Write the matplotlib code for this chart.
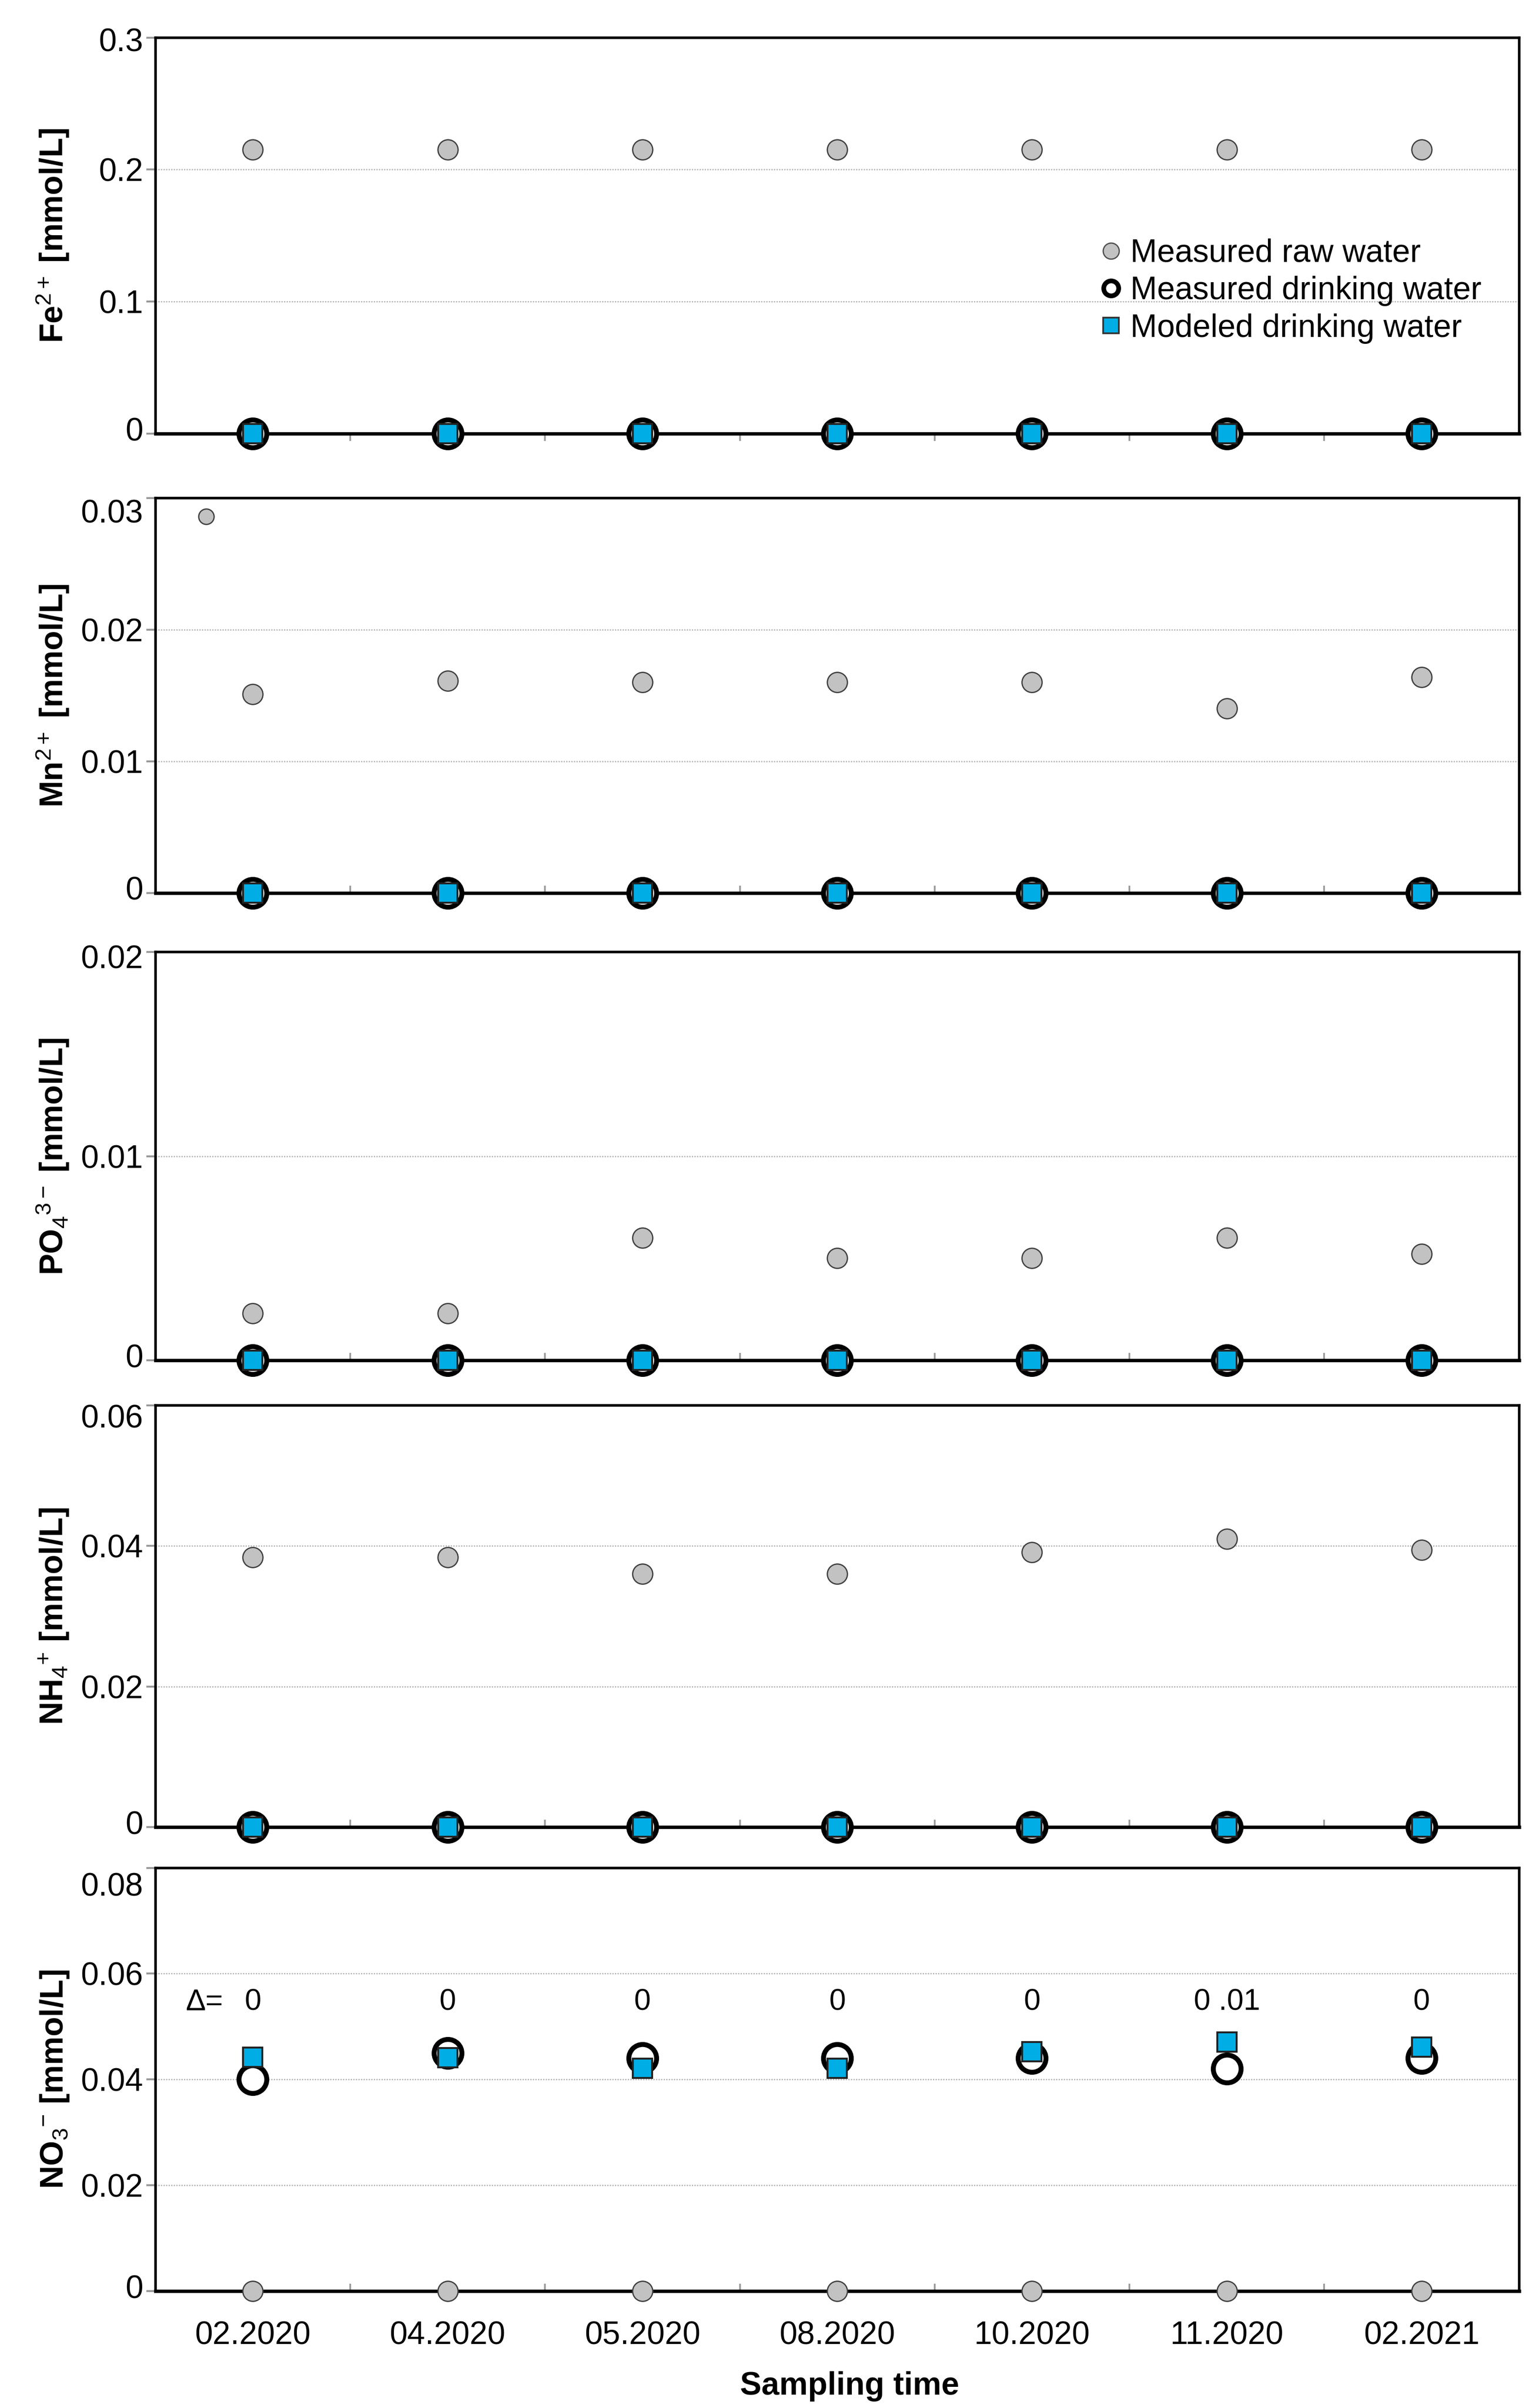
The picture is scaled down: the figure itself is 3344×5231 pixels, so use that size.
import matplotlib
matplotlib.use('Agg')
import matplotlib.pyplot as plt
from matplotlib.lines import Line2D
from matplotlib.transforms import ScaledTranslation

plt.rcParams['font.family'] = ['Liberation Sans', 'DejaVu Sans']
plt.rcParams['mathtext.fontset'] = 'custom'
plt.rcParams['mathtext.rm'] = 'Liberation Sans'
plt.rcParams['mathtext.it'] = 'Liberation Sans:italic'
plt.rcParams['mathtext.bf'] = 'Liberation Sans:bold'

# sampling dates
dates = ["02.2020", "04.2020", "05.2020", "08.2020", "10.2020", "11.2020", "02.2021"]

# Fe2+ [mmol/L]
fe_raw = [0.215, 0.215, 0.215, 0.215, 0.215, 0.215, 0.215]
fe_meas = [0, 0, 0, 0, 0, 0, 0]
fe_model = [0, 0, 0, 0, 0, 0, 0]

# Mn2+ [mmol/L]
mn_raw = [0.0151, 0.0161, 0.0160, 0.0160, 0.0160, 0.0140, 0.0164]
mn_raw_extra = 0.0286   # stray point left of 02.2020
mn_meas = [0, 0, 0, 0, 0, 0, 0]
mn_model = [0, 0, 0, 0, 0, 0, 0]

# PO4 3- [mmol/L]
po4_raw = [0.0023, 0.0023, 0.0060, 0.0050, 0.0050, 0.0060, 0.0052]
po4_meas = [0, 0, 0, 0, 0, 0, 0]
po4_model = [0, 0, 0, 0, 0, 0, 0]

# NH4+ [mmol/L]
nh4_raw = [0.0384, 0.0384, 0.0360, 0.0360, 0.0391, 0.0410, 0.0394]
nh4_meas = [0, 0, 0, 0, 0, 0, 0]
nh4_model = [0, 0, 0, 0, 0, 0, 0]

# NO3- [mmol/L]
no3_raw = [0, 0, 0, 0, 0, 0, 0]
no3_meas = [0.0400, 0.0450, 0.0440, 0.0440, 0.0440, 0.0420, 0.0440]
no3_model = [0.0442, 0.0441, 0.0421, 0.0421, 0.0452, 0.0471, 0.0461]
no3_delta = ["0", "0", "0", "0", "0", "0 .01", "0"]

blue = '#00AEE5'
gray = '#C2C2C2'

# top_dy: how far (pt) the top tick label sits below its tick
panels = [
    dict(label=r'Fe$^{\mathrm{2+}}$ [mmol/L]', raw=fe_raw, meas=fe_meas, model=fe_model,
         ticks=[0, 0.1, 0.2, 0.3], rect=[0.101, 0.8199, 0.886, 0.1645], top_dy=1.0),
    dict(label=r'Mn$^{\mathrm{2+}}$ [mmol/L]', raw=mn_raw, meas=mn_meas, model=mn_model,
         ticks=[0, 0.01, 0.02, 0.03], rect=[0.101, 0.6292, 0.886, 0.1640], top_dy=6.0),
    dict(label=r'PO$_{\mathrm{4}}$$^{\mathrm{3-}}$ [mmol/L]', raw=po4_raw, meas=po4_meas, model=po4_model,
         ticks=[0, 0.01, 0.02], rect=[0.101, 0.4351, 0.886, 0.1695], top_dy=2.0),
    dict(label=r'NH$_{\mathrm{4}}$$^{\mathrm{+}}$ [mmol/L]', raw=nh4_raw, meas=nh4_meas, model=nh4_model,
         ticks=[0, 0.02, 0.04, 0.06], rect=[0.101, 0.2412, 0.886, 0.1752], top_dy=5.0),
    dict(label=r'NO$_{\mathrm{3}}$$^{\mathrm{-}}$ [mmol/L]', raw=no3_raw, meas=no3_meas, model=no3_model,
         ticks=[0, 0.02, 0.04, 0.06, 0.08], rect=[0.101, 0.0486, 0.886, 0.1757], top_dy=7.5),
]


def fmt(v):
    return '0' if v == 0 else ('%g' % v)


fig = plt.figure(figsize=(10, 15.643), dpi=334.4)
x = list(range(len(dates)))

for k, p in enumerate(panels):
    ax = fig.add_axes(p['rect'])
    last = k == len(panels) - 1

    ax.plot(x, p['raw'], ls='none', marker='o', ms=9.4, mfc=gray, mec='#404040',
            mew=0.6, zorder=5, clip_on=False)
    ax.plot(x, p['meas'], ls='none', marker='o', ms=13, mfc='white', mec='black',
            mew=2.3, zorder=6, clip_on=False)
    ax.plot(x, p['model'], ls='none', marker='s', ms=9.2, mfc=blue, mec='#222222',
            mew=0.9, zorder=7, clip_on=False)

    if k == 1:
        ax.plot([-0.24], [mn_raw_extra], ls='none', marker='o', ms=7.2, mfc=gray,
                mec='#404040', mew=0.6, zorder=5)

    ax.set_xlim(-0.5, len(dates) - 0.5)
    ax.set_ylim(p['ticks'][0], p['ticks'][-1])
    ax.set_yticks(p['ticks'])
    ax.set_yticklabels([fmt(t) for t in p['ticks']])
    ax.yaxis.grid(True, color='#B5B5B5', lw=0.6, ls=(0, (1, 1)))
    ax.set_axisbelow(True)
    ax.tick_params(axis='y', direction='out', length=4.3, width=0.9, color='#999999',
                   labelsize=15, pad=1.5)

    yt = ax.yaxis.get_major_ticks()
    lab0 = yt[0].label1
    lab0.set_transform(lab0.get_transform() + ScaledTranslation(0, 2.2 / 72, fig.dpi_scale_trans))
    labn = yt[-1].label1
    labn.set_transform(labn.get_transform() + ScaledTranslation(0, -p['top_dy'] / 72, fig.dpi_scale_trans))

    ax.set_xticks(x)
    ax.set_xticks([i + 0.5 for i in x[:-1]], minor=True)
    ax.tick_params(axis='x', which='major', length=0, labelsize=15, pad=14)
    ax.tick_params(axis='x', which='minor', length=3.5, width=0.8, color='#999999',
                   direction='out' if k == 0 else 'in')
    if last:
        ax.set_xticklabels(dates)
        ax.set_xlabel('Sampling time', fontsize=15, fontweight='bold')
        ax.xaxis.set_label_coords(0.509, -0.19)
    else:
        ax.set_xticklabels([])

    for s in ax.spines.values():
        s.set_linewidth(1.2)
        s.set_color('black')
    ax.spines['bottom'].set_linewidth(1.6)

    ax.set_ylabel(p['label'], fontsize=15, fontweight='bold')
    ax.yaxis.set_label_coords(-0.062, 0.5)

    if k == 0:
        handles = [
            Line2D([], [], ls='none', marker='o', ms=7.5, mfc=gray, mec='#505050', mew=0.6),
            Line2D([], [], ls='none', marker='o', ms=7, mfc='white', mec='black', mew=2.2),
            Line2D([], [], ls='none', marker='s', ms=7.5, mfc=blue, mec='#333333', mew=0.8),
        ]
        ax.legend(handles, ['Measured raw water', 'Measured drinking water', 'Modeled drinking water'],
                  loc='center left', bbox_to_anchor=(0.6915, 0.36), frameon=False, fontsize=15,
                  handlelength=0.8, handletextpad=0.2, labelspacing=0.22, borderpad=0,
                  borderaxespad=0)

    if last:
        ax.text(-0.25, 0.0546, 'Δ=', ha='center', va='center', fontsize=14)
        for i, d in zip(x, no3_delta):
            ax.text(i, 0.0546, d, ha='center', va='center', fontsize=14)

fig.savefig('out.png', dpi=334.4)
